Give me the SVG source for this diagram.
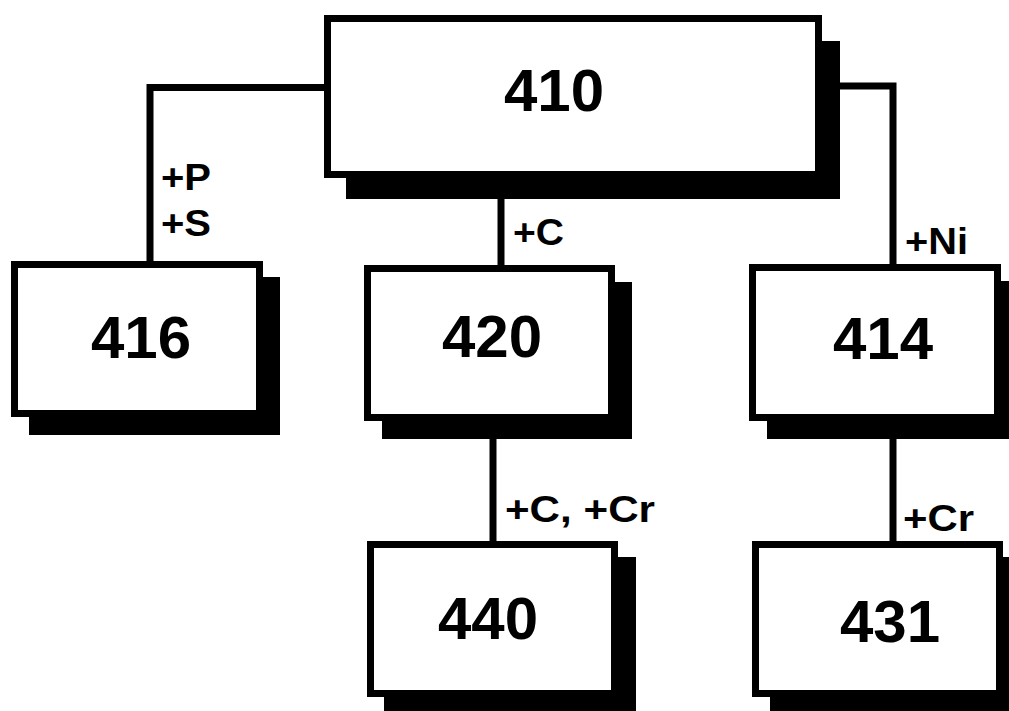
<svg xmlns="http://www.w3.org/2000/svg" width="1009" height="711" viewBox="0 0 1009 711">
<style>
.shadow{fill:#000}
.box{fill:#fff;stroke:#000;stroke-width:7}
.num{font-family:"Liberation Sans",Arial,sans-serif;font-weight:bold;font-size:60px;text-anchor:middle;fill:#000}
.lbl{font-family:"Liberation Sans",Arial,sans-serif;font-weight:bold;font-size:36px;fill:#000}
.conn{fill:none;stroke:#000;stroke-width:7}
</style>
<rect width="1009" height="711" fill="#fff"/>
<g id="connectors">
<polyline class="conn" points="327,87.5 150,87.5 150,262"/>
<line class="conn" x1="501" y1="195" x2="501" y2="266"/>
<polyline class="conn" points="820,86 893,86 893,265"/>
<line class="conn" x1="493" y1="435" x2="493" y2="542"/>
<line class="conn" x1="893" y1="435" x2="893" y2="542"/>
<text class="lbl" x="161" y="190" textLength="50" lengthAdjust="spacingAndGlyphs">+P</text>
<text class="lbl" x="161" y="236" textLength="50" lengthAdjust="spacingAndGlyphs">+S</text>
<text class="lbl" x="513" y="245" textLength="51" lengthAdjust="spacingAndGlyphs">+C</text>
<text class="lbl" x="905" y="254" textLength="63" lengthAdjust="spacingAndGlyphs">+Ni</text>
<text class="lbl" x="505" y="522" textLength="150" lengthAdjust="spacingAndGlyphs">+C, +Cr</text>
<text class="lbl" x="903" y="531" textLength="71" lengthAdjust="spacingAndGlyphs">+Cr</text>
</g>
<g id="node-410">
<rect class="shadow" x="346" y="41" width="494" height="158"/>
<rect class="box" x="327.5" y="18.5" width="491" height="156"/>
<text class="num" x="554" y="111">410</text>
</g>
<g id="node-416">
<rect class="shadow" x="29" y="277" width="251" height="158"/>
<rect class="box" x="14.5" y="264.5" width="245" height="149"/>
<text class="num" x="141" y="358">416</text>
</g>
<g id="node-420">
<rect class="shadow" x="382" y="282" width="250" height="157"/>
<rect class="box" x="367.5" y="268.5" width="244" height="149"/>
<text class="num" x="492" y="357">420</text>
</g>
<g id="node-414">
<rect class="shadow" x="767" y="281" width="252" height="158"/>
<rect class="box" x="752.5" y="267.5" width="245" height="150"/>
<text class="num" x="883" y="359">414</text>
</g>
<g id="node-440">
<rect class="shadow" x="384" y="557" width="252" height="160"/>
<rect class="box" x="370.5" y="544.5" width="244" height="149"/>
<text class="num" x="488" y="639">440</text>
</g>
<g id="node-431">
<rect class="shadow" x="770" y="557" width="252" height="160"/>
<rect class="box" x="755.5" y="544.5" width="244" height="149"/>
<text class="num" x="890" y="642">431</text>
</g>
</svg>
